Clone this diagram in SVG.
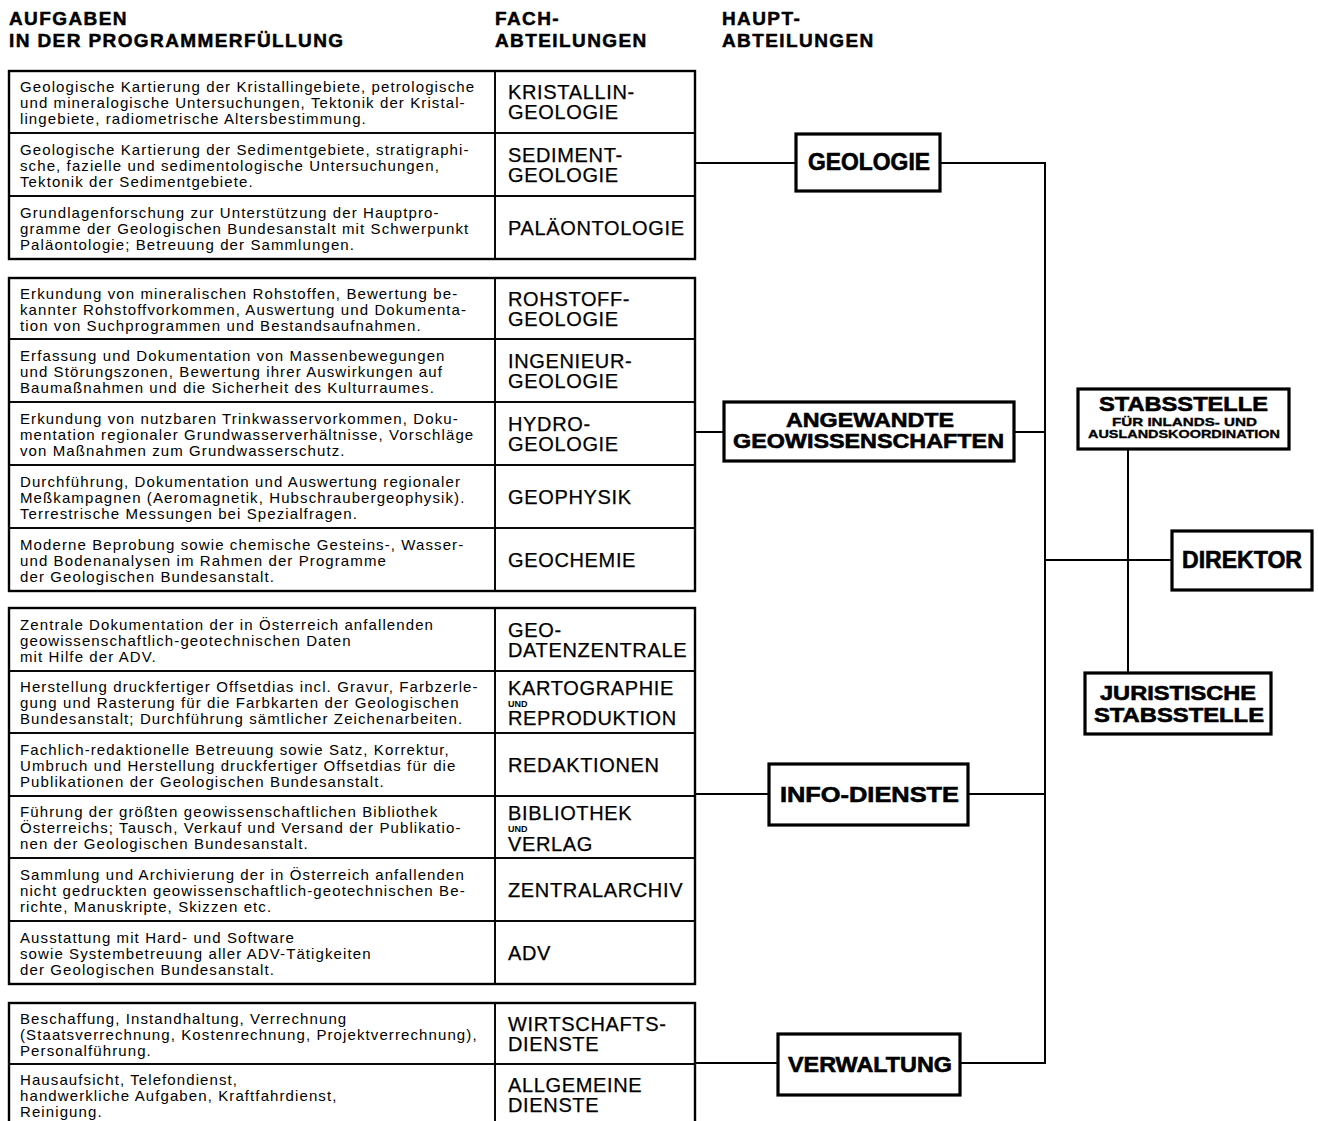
<svg xmlns="http://www.w3.org/2000/svg" width="1318" height="1121" viewBox="0 0 1318 1121">
<style>
.t{font-family:"Liberation Sans",Arial,sans-serif;font-size:15px;letter-spacing:1.1px;fill:#000}
.l{font-family:"Liberation Sans",Arial,sans-serif;font-size:20px;letter-spacing:0.65px;fill:#000;stroke:#000;stroke-width:0.25}
.u{font-family:"Liberation Sans",Arial,sans-serif;font-size:9px;font-weight:bold;fill:#000}
.h{font-family:"Liberation Sans",Arial,sans-serif;font-size:19px;font-weight:bold;letter-spacing:1.4px;fill:#000;stroke:#000;stroke-width:0.5}
.n{font-family:"Liberation Sans",Arial,sans-serif;font-weight:bold;fill:#000;stroke:#000;stroke-width:0.6}
.cell{fill:none;stroke:#000;stroke-width:1.6}
.frame{fill:none;stroke:#000;stroke-width:2.4}
.box{fill:#fff;stroke:#000;stroke-width:3.2}
.c{fill:none;stroke:#000;stroke-width:2}
</style>
<rect width="1318" height="1121" fill="#fff"/>

<g id="headers">
<text class="h" x="9" y="25">AUFGABEN</text>
<text class="h" x="9" y="47">IN DER PROGRAMMERFÜLLUNG</text>
<text class="h" x="495" y="25">FACH-</text>
<text class="h" x="495" y="47">ABTEILUNGEN</text>
<text class="h" x="722" y="25">HAUPT-</text>
<text class="h" x="722" y="47">ABTEILUNGEN</text>
</g>

<g id="connectors">
<polyline class="c" points="695,163 795,163"/>
<polyline class="c" points="941,163 1045,163 1045,1063 961,1063"/>
<polyline class="c" points="695,432 723,432"/>
<polyline class="c" points="1015,432 1045,432"/>
<polyline class="c" points="695,794 768,794"/>
<polyline class="c" points="969,794 1045,794"/>
<polyline class="c" points="695,1063 777,1063"/>
<polyline class="c" points="1045,560 1171,560"/>
<polyline class="c" points="1128,450 1128,672"/>
</g>

<!-- Group 1 -->
<g id="row-kristallin">
<rect class="cell" x="9" y="71" width="486" height="62"/><rect class="cell" x="495" y="71" width="200" height="62"/>
<text class="t" x="20" y="92">Geologische Kartierung der Kristallingebiete, petrologische</text>
<text class="t" x="20" y="108">und mineralogische Untersuchungen, Tektonik der Kristal-</text>
<text class="t" x="20" y="124">lingebiete, radiometrische Altersbestimmung.</text>
<text class="l" x="508" y="99">KRISTALLIN-</text><text class="l" x="508" y="119">GEOLOGIE</text>
</g>
<g id="row-sediment">
<rect class="cell" x="9" y="133" width="486" height="63"/><rect class="cell" x="495" y="133" width="200" height="63"/>
<text class="t" x="20" y="154.5">Geologische Kartierung der Sedimentgebiete, stratigraphi-</text>
<text class="t" x="20" y="170.5">sche, fazielle und sedimentologische Untersuchungen,</text>
<text class="t" x="20" y="186.5">Tektonik der Sedimentgebiete.</text>
<text class="l" x="508" y="161.5">SEDIMENT-</text><text class="l" x="508" y="181.5">GEOLOGIE</text>
</g>
<g id="row-palaeontologie">
<rect class="cell" x="9" y="196" width="486" height="63"/><rect class="cell" x="495" y="196" width="200" height="63"/>
<text class="t" x="20" y="217.5">Grundlagenforschung zur Unterstützung der Hauptpro-</text>
<text class="t" x="20" y="233.5">gramme der Geologischen Bundesanstalt mit Schwerpunkt</text>
<text class="t" x="20" y="249.5">Paläontologie; Betreuung der Sammlungen.</text>
<text class="l" x="508" y="234.5">PALÄONTOLOGIE</text>
</g>
<rect class="frame" x="9" y="71" width="686" height="188"/>

<!-- Group 2 -->
<g id="row-rohstoff">
<rect class="cell" x="9" y="278" width="486" height="61"/><rect class="cell" x="495" y="278" width="200" height="61"/>
<text class="t" x="20" y="298.5">Erkundung von mineralischen Rohstoffen, Bewertung be-</text>
<text class="t" x="20" y="314.5">kannter Rohstoffvorkommen, Auswertung und Dokumenta-</text>
<text class="t" x="20" y="330.5">tion von Suchprogrammen und Bestandsaufnahmen.</text>
<text class="l" x="508" y="305.5">ROHSTOFF-</text><text class="l" x="508" y="325.5">GEOLOGIE</text>
</g>
<g id="row-ingenieur">
<rect class="cell" x="9" y="339" width="486" height="63"/><rect class="cell" x="495" y="339" width="200" height="63"/>
<text class="t" x="20" y="360.5">Erfassung und Dokumentation von Massenbewegungen</text>
<text class="t" x="20" y="376.5">und Störungszonen, Bewertung ihrer Auswirkungen auf</text>
<text class="t" x="20" y="392.5">Baumaßnahmen und die Sicherheit des Kulturraumes.</text>
<text class="l" x="508" y="367.5">INGENIEUR-</text><text class="l" x="508" y="387.5">GEOLOGIE</text>
</g>
<g id="row-hydro">
<rect class="cell" x="9" y="402" width="486" height="63"/><rect class="cell" x="495" y="402" width="200" height="63"/>
<text class="t" x="20" y="423.5">Erkundung von nutzbaren Trinkwasservorkommen, Doku-</text>
<text class="t" x="20" y="439.5">mentation regionaler Grundwasserverhältnisse, Vorschläge</text>
<text class="t" x="20" y="455.5">von Maßnahmen zum Grundwasserschutz.</text>
<text class="l" x="508" y="430.5">HYDRO-</text><text class="l" x="508" y="450.5">GEOLOGIE</text>
</g>
<g id="row-geophysik">
<rect class="cell" x="9" y="465" width="486" height="63"/><rect class="cell" x="495" y="465" width="200" height="63"/>
<text class="t" x="20" y="486.5">Durchführung, Dokumentation und Auswertung regionaler</text>
<text class="t" x="20" y="502.5">Meßkampagnen (Aeromagnetik, Hubschraubergeophysik).</text>
<text class="t" x="20" y="518.5">Terrestrische Messungen bei Spezialfragen.</text>
<text class="l" x="508" y="503.5">GEOPHYSIK</text>
</g>
<g id="row-geochemie">
<rect class="cell" x="9" y="528" width="486" height="63"/><rect class="cell" x="495" y="528" width="200" height="63"/>
<text class="t" x="20" y="549.5">Moderne Beprobung sowie chemische Gesteins-, Wasser-</text>
<text class="t" x="20" y="565.5">und Bodenanalysen im Rahmen der Programme</text>
<text class="t" x="20" y="581.5">der Geologischen Bundesanstalt.</text>
<text class="l" x="508" y="566.5">GEOCHEMIE</text>
</g>
<rect class="frame" x="9" y="278" width="686" height="313"/>

<!-- Group 3 -->
<g id="row-geodaten">
<rect class="cell" x="9" y="608" width="486" height="63"/><rect class="cell" x="495" y="608" width="200" height="63"/>
<text class="t" x="20" y="629.5">Zentrale Dokumentation der in Österreich anfallenden</text>
<text class="t" x="20" y="645.5">geowissenschaftlich-geotechnischen Daten</text>
<text class="t" x="20" y="661.5">mit Hilfe der ADV.</text>
<text class="l" x="508" y="636.5">GEO-</text><text class="l" x="508" y="656.5">DATENZENTRALE</text>
</g>
<g id="row-kartographie">
<rect class="cell" x="9" y="671" width="486" height="62"/><rect class="cell" x="495" y="671" width="200" height="62"/>
<text class="t" x="20" y="692">Herstellung druckfertiger Offsetdias incl. Gravur, Farbzerle-</text>
<text class="t" x="20" y="708">gung und Rasterung für die Farbkarten der Geologischen</text>
<text class="t" x="20" y="724">Bundesanstalt; Durchführung sämtlicher Zeichenarbeiten.</text>
<text class="l" x="508" y="695">KARTOGRAPHIE</text><text class="u" x="508" y="707">UND</text><text class="l" x="508" y="725">REPRODUKTION</text>
</g>
<g id="row-redaktionen">
<rect class="cell" x="9" y="733" width="486" height="63"/><rect class="cell" x="495" y="733" width="200" height="63"/>
<text class="t" x="20" y="754.5">Fachlich-redaktionelle Betreuung sowie Satz, Korrektur,</text>
<text class="t" x="20" y="770.5">Umbruch und Herstellung druckfertiger Offsetdias für die</text>
<text class="t" x="20" y="786.5">Publikationen der Geologischen Bundesanstalt.</text>
<text class="l" x="508" y="771.5">REDAKTIONEN</text>
</g>
<g id="row-bibliothek">
<rect class="cell" x="9" y="796" width="486" height="62"/><rect class="cell" x="495" y="796" width="200" height="62"/>
<text class="t" x="20" y="817">Führung der größten geowissenschaftlichen Bibliothek</text>
<text class="t" x="20" y="833">Österreichs; Tausch, Verkauf und Versand der Publikatio-</text>
<text class="t" x="20" y="849">nen der Geologischen Bundesanstalt.</text>
<text class="l" x="508" y="820">BIBLIOTHEK</text><text class="u" x="508" y="832">UND</text><text class="l" x="508" y="851">VERLAG</text>
</g>
<g id="row-zentralarchiv">
<rect class="cell" x="9" y="858" width="486" height="63"/><rect class="cell" x="495" y="858" width="200" height="63"/>
<text class="t" x="20" y="879.5">Sammlung und Archivierung der in Österreich anfallenden</text>
<text class="t" x="20" y="895.5">nicht gedruckten geowissenschaftlich-geotechnischen Be-</text>
<text class="t" x="20" y="911.5">richte, Manuskripte, Skizzen etc.</text>
<text class="l" x="508" y="896.5">ZENTRALARCHIV</text>
</g>
<g id="row-adv">
<rect class="cell" x="9" y="921" width="486" height="63"/><rect class="cell" x="495" y="921" width="200" height="63"/>
<text class="t" x="20" y="942.5">Ausstattung mit Hard- und Software</text>
<text class="t" x="20" y="958.5">sowie Systembetreuung aller ADV-Tätigkeiten</text>
<text class="t" x="20" y="974.5">der Geologischen Bundesanstalt.</text>
<text class="l" x="508" y="959.5">ADV</text>
</g>
<rect class="frame" x="9" y="608" width="686" height="376"/>

<!-- Group 4 -->
<g id="row-wirtschaft">
<rect class="cell" x="9" y="1003" width="486" height="61"/><rect class="cell" x="495" y="1003" width="200" height="61"/>
<text class="t" x="20" y="1023.5">Beschaffung, Instandhaltung, Verrechnung</text>
<text class="t" x="20" y="1039.5">(Staatsverrechnung, Kostenrechnung, Projektverrechnung),</text>
<text class="t" x="20" y="1055.5">Personalführung.</text>
<text class="l" x="508" y="1030.5">WIRTSCHAFTS-</text><text class="l" x="508" y="1050.5">DIENSTE</text>
</g>
<g id="row-allgemein">
<rect class="cell" x="9" y="1064" width="486" height="62"/><rect class="cell" x="495" y="1064" width="200" height="62"/>
<text class="t" x="20" y="1085">Hausaufsicht, Telefondienst,</text>
<text class="t" x="20" y="1101">handwerkliche Aufgaben, Kraftfahrdienst,</text>
<text class="t" x="20" y="1117">Reinigung.</text>
<text class="l" x="508" y="1092">ALLGEMEINE</text><text class="l" x="508" y="1112">DIENSTE</text>
</g>
<rect class="frame" x="9" y="1003" width="686" height="123"/>

<!-- Main departments -->
<g id="geologie">
<rect class="box" x="796" y="134" width="144" height="57"/>
<text class="n" x="808" y="170" font-size="23" textLength="122" lengthAdjust="spacingAndGlyphs">GEOLOGIE</text>
</g>
<g id="angewandte">
<rect class="box" x="724" y="402" width="290" height="59"/>
<text class="n" x="786" y="427" font-size="21" textLength="168" lengthAdjust="spacingAndGlyphs">ANGEWANDTE</text>
<text class="n" x="733" y="448" font-size="21" textLength="271" lengthAdjust="spacingAndGlyphs">GEOWISSENSCHAFTEN</text>
</g>
<g id="info-dienste">
<rect class="box" x="769" y="764" width="199" height="61"/>
<text class="n" x="780" y="802" font-size="22" textLength="179" lengthAdjust="spacingAndGlyphs">INFO-DIENSTE</text>
</g>
<g id="verwaltung">
<rect class="box" x="778" y="1034" width="182" height="61"/>
<text class="n" x="788" y="1072" font-size="22" textLength="164" lengthAdjust="spacingAndGlyphs">VERWALTUNG</text>
</g>
<g id="stabsstelle">
<rect class="box" x="1078" y="389" width="211" height="60"/>
<text class="n" x="1099" y="411" font-size="20" textLength="169" lengthAdjust="spacingAndGlyphs">STABSSTELLE</text>
<text class="n" x="1112" y="426" font-size="10.5" style="stroke-width:0.3" textLength="145" lengthAdjust="spacingAndGlyphs">FÜR INLANDS- UND</text>
<text class="n" x="1088" y="438" font-size="10.5" style="stroke-width:0.3" textLength="192" lengthAdjust="spacingAndGlyphs">AUSLANDSKOORDINATION</text>
</g>
<g id="direktor">
<rect class="box" x="1172" y="531" width="140" height="59"/>
<text class="n" x="1182" y="568" font-size="23" textLength="120" lengthAdjust="spacingAndGlyphs">DIREKTOR</text>
</g>
<g id="juristische">
<rect class="box" x="1085" y="673" width="186" height="61"/>
<text class="n" x="1100" y="700" font-size="20" textLength="156" lengthAdjust="spacingAndGlyphs">JURISTISCHE</text>
<text class="n" x="1094" y="722" font-size="20" textLength="170" lengthAdjust="spacingAndGlyphs">STABSSTELLE</text>
</g>
</svg>
